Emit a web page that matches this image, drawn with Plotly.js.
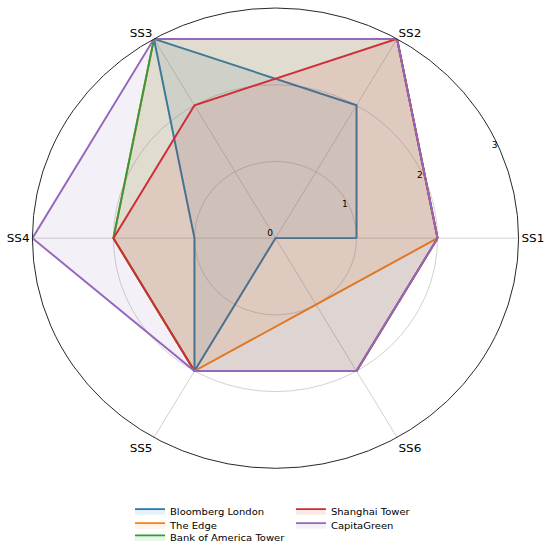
<!DOCTYPE html>
<html>
<head>
<meta charset="utf-8">
<script src="https://cdn.plot.ly/plotly-3.0.1.min.js"></script>
<style>
  html, body { margin: 0; padding: 0; background: #fff; overflow: hidden; }
  #wrap { width: 550px; height: 551px; overflow: hidden; }
  #chart { width: 550px; height: 582px; transform: scaleY(0.9467); transform-origin: 0 0; }
</style>
</head>
<body>
<div id="wrap"><div id="chart"></div></div>
<script>
const categories = ['SS1', 'SS2', 'SS3', 'SS4', 'SS5', 'SS6'];
const seriesNames = ['Bloomberg London', 'The Edge', 'Bank of America Tower', 'Shanghai Tower', 'CapitaGreen'];
const bloombergLondon = [1, 2, 3, 1, 2, 0];
const theEdge = [2, 3, 3, 2, 2, 1];
const bankOfAmericaTower = [2, 3, 3, 2, 2, 2];
const shanghaiTower = [2, 3, 2, 2, 2, 2];
const capitaGreen = [2, 3, 3, 3, 2, 2];
const radialTickVals = [0, 1, 2, 3];

const seriesValues = [bloombergLondon, theEdge, bankOfAmericaTower, shanghaiTower, capitaGreen];
const lineColors = ['#1f77b4', '#ff7f0e', '#2ca02c', '#d62728', '#9467bd'];
const fillColors = ['rgba(31,119,180,0.1)', 'rgba(255,127,14,0.1)', 'rgba(44,160,44,0.1)', 'rgba(214,39,40,0.1)', 'rgba(148,103,189,0.1)'];
const legendIds = ['legend', 'legend2', 'legend3', 'legend4', 'legend5'];

const traces = seriesValues.map((vals, i) => ({
  type: 'scatterpolar',
  mode: 'lines',
  name: seriesNames[i],
  r: vals.concat([vals[0]]),
  theta: categories.concat([categories[0]]),
  fill: 'toself',
  fillcolor: fillColors[i],
  line: { color: lineColors[i], width: 2 },
  legend: legendIds[i],
  hoverinfo: 'skip'
}));

const legendFont = { family: 'DejaVu Sans', size: 10, color: '#000' };
function leg(x, y) {
  return { x: x, y: y, xanchor: 'left', yanchor: 'middle', font: legendFont,
           bgcolor: 'rgba(0,0,0,0)', borderwidth: 0, orientation: 'v' };
}

const radialAngle = 22.5;

const layout = {
  width: 550, height: 582,
  margin: { l: 0, r: 0, t: 0, b: 0 },
  paper_bgcolor: '#fff',
  showlegend: true,
  hovermode: false,
  font: { family: 'DejaVu Sans', color: '#000' },
  polar: {
    domain: { x: [0.0582, 0.9436], y: [0.1486, 0.9854] },
    bgcolor: '#fff',
    radialaxis: {
      range: [0, 3],
      tickvals: radialTickVals,
      ticktext: radialTickVals.map(String),
      angle: radialAngle,
      side: 'counterclockwise',
      tickangle: radialAngle,
      showline: false,
      ticks: '',
      showgrid: true,
      gridcolor: '#c4c4c4',
      gridwidth: 0.8,
      tickfont: { family: 'DejaVu Sans', size: 9, color: '#000' }
    },
    angularaxis: {
      type: 'category',
      categoryorder: 'array',
      categoryarray: categories,
      direction: 'counterclockwise',
      rotation: 0,
      showline: true,
      linecolor: '#222',
      linewidth: 1,
      showgrid: true,
      gridcolor: '#c4c4c4',
      gridwidth: 0.8,
      ticks: '',
      tickfont: { family: 'DejaVu Sans', size: 12, color: '#000' }
    }
  },
  legend: leg(0.2364, 0.0725),
  legend2: leg(0.2364, 0.0471),
  legend3: leg(0.2364, 0.0234),
  legend4: leg(0.529, 0.0725),
  legend5: leg(0.529, 0.0471)
};

Plotly.newPlot('chart', traces, layout, { displayModeBar: false, staticPlot: true });
</script>
</body>
</html>
